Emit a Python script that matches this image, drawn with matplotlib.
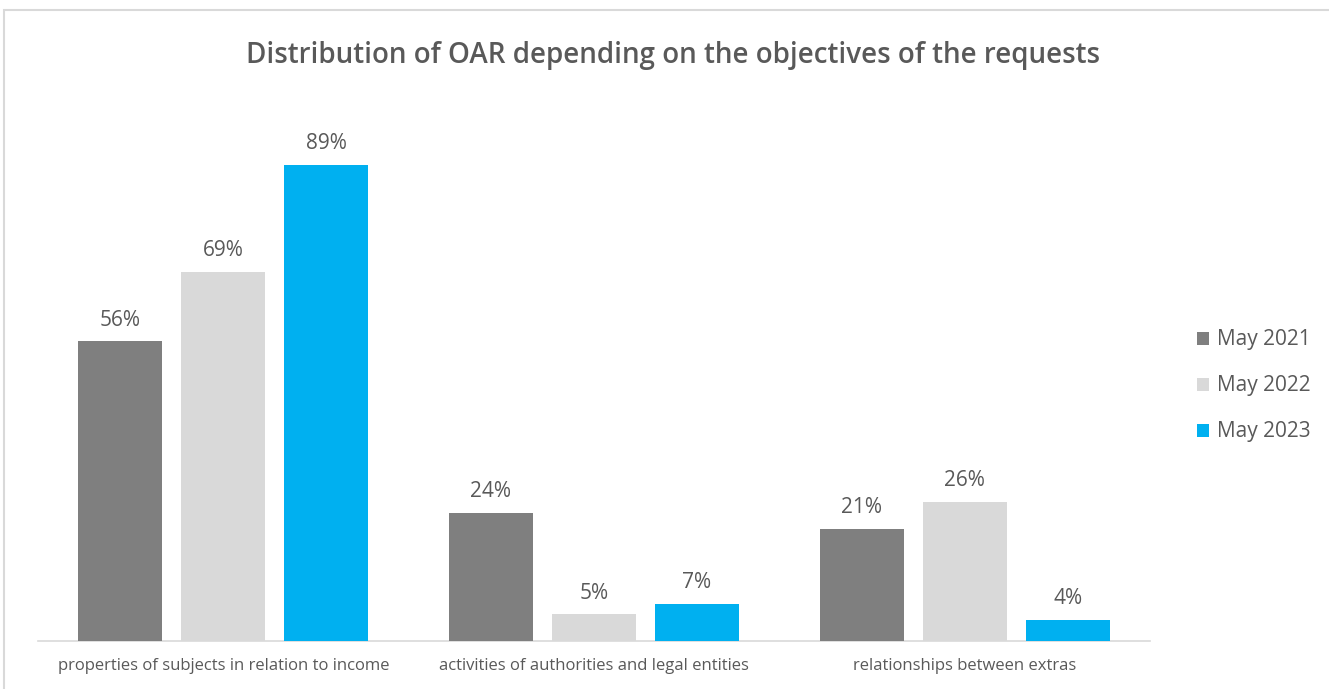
import numpy as np
import matplotlib
matplotlib.use("Agg")
import matplotlib.pyplot as plt
from matplotlib.patches import Rectangle

plt.rcParams['font.family'] = ['Open Sans', 'DejaVu Sans']

# data
categories = ['properties of subjects in relation to income',
              'activities of authorities and legal entities',
              'relationships between extras']
series = ['May 2021', 'May 2022', 'May 2023']
may_2021 = [56, 24, 21]
may_2022 = [69, 5, 26]
may_2023 = [89, 7, 4]

colors = ['#7f7f7f', '#d9d9d9', '#00b0f0']
txt = '#595959'

fig = plt.figure(figsize=(13.29, 6.89), dpi=100)
# thin chart frame like the spreadsheet export
fig.patches.append(Rectangle((4 / 1329, -0.1), 1.2, (689 - 10) / 689 + 0.1,
                             transform=fig.transFigure, fill=False,
                             edgecolor='#d9d9d9', linewidth=1.5))

ax = fig.add_axes([38 / 1329, 48 / 689, 1112 / 1329, 535 / 689])

x = np.arange(len(categories))
width = 0.227
step = 0.278
for i, (name, vals) in enumerate(zip(series, [may_2021, may_2022, may_2023])):
    bars = ax.bar(x + (i - 1) * step, vals, width, color=colors[i], label=name,
                  zorder=3)
    for b, v in zip(bars, vals):
        ax.text(b.get_x() + b.get_width() / 2, v + 2.0, f'{v}%', ha='center',
                va='bottom', fontsize=15, color=txt)

ax.set_xlim(-0.5, 2.5)
ax.set_ylim(0, 100)
ax.set_yticks([])
ax.set_xticks(x)
ax.set_xticklabels(categories, fontsize=12, color=txt)
ax.tick_params(axis='x', length=0, pad=12)
for s in ['top', 'right', 'left']:
    ax.spines[s].set_visible(False)
ax.spines['bottom'].set_color('#d9d9d9')
ax.spines['bottom'].set_linewidth(1.2)

fig.text(673 / 1329, 1 - 55 / 689, 'Distribution of OAR depending on the objectives of the requests',
         ha='center', va='center', fontsize=20, color=txt, fontweight='semibold')

leg = fig.legend(loc='center left', bbox_to_anchor=(1178 / 1329, 1 - 386 / 689),
                 frameon=False, fontsize=15, handlelength=0.6, handleheight=0.6,
                 handletextpad=0.35, labelspacing=1.2)
for t in leg.get_texts():
    t.set_color(txt)

fig.savefig('out.png', dpi=100, facecolor='white')
